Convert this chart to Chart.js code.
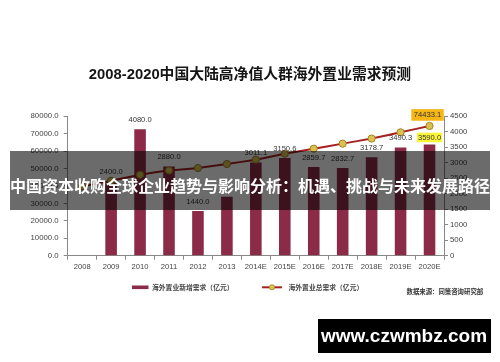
<!DOCTYPE html>
<html><head><meta charset="utf-8">
<script src="https://cdn.jsdelivr.net/npm/chart.js@4.4.1/dist/chart.umd.min.js"></script>
<style>html,body{margin:0;padding:0;background:#fff;overflow:hidden}#wrap{width:500px;height:362px}</style>
</head><body><div id="wrap"><canvas id="c" width="500" height="362"></canvas></div>
<script>
const categories = ['2008','2009','2010','2011','2012','2013','2014E','2015E','2016E','2017E','2018E','2019E','2020E'];
const newDemand = [null,2400,4080,2880,1440,1900,3011.1,3150.6,2859.7,2832.7,3178.7,3490.3,3590.0];
const newDemandLabels = [null,'2400.0','4080.0','2880.0','1440.0',null,'3011.1','3150.6','2859.7','2832.7','3178.7','3490.3','3590.0'];
const totalDemand = [39700,43000,46400,48900,50300,52600,55100,58500,61400,64300,67200,70800,74433.1];
const totalDemandLabels = [null,null,null,null,null,null,null,null,null,null,null,null,'74433.1'];
const leftAxis = {min:0, max:80000, step:10000};
const rightAxis = {min:0, max:4500, step:500};
const titleText = '2008-2020中国大陆高净值人群海外置业需求预测';
const legendBar = '海外置业新增需求（亿元）';
const legendLine = '海外置业总需求（亿元）';
const sourceText = '数据来源：同策咨询研究部';
const bannerText = '中国资本收购全球企业趋势与影响分析：机遇、挑战与未来发展路径';
const watermarkText = 'www.czwmbz.com';

const BAR_COLOR = '#8c2b47';
const LINE_COLOR = '#a8201f';
const PT_FILL = '#dcc050';
const PT_BORDER = '#a08425';
const NUM_FONT = '"Liberation Sans", Arial, sans-serif';
const CJK_FONT = '"Noto Sans CJK SC", sans-serif';

const overlay = {
  id: 'overlay',
  afterDatasetsDraw(chart) {
    const ctx = chart.ctx;
    ctx.save();
    const bm = chart.getDatasetMeta(0);
    ctx.font = '7.6px ' + NUM_FONT;
    ctx.textAlign = 'center';
    ctx.textBaseline = 'middle';
    bm.data.forEach((el, i) => {
      const t = newDemandLabels[i];
      if (!t) return;
      const last = i === newDemandLabels.length - 1;
      const y = el.y - (last ? 7 : 9.5);
      if (last) {
        const w = ctx.measureText(t).width + 2;
        ctx.fillStyle = '#fbf53a';
        ctx.fillRect(el.x - w/2, y - 4.8, w, 9.6);
      }
      ctx.fillStyle = '#333';
      ctx.fillText(t, el.x, y);
    });
    const lm = chart.getDatasetMeta(1);
    lm.data.forEach((el, i) => {
      const t = totalDemandLabels[i];
      if (!t) return;
      const y = el.y - 11;
      const w = ctx.measureText(t).width + 5;
      ctx.fillStyle = '#f6b716';
      ctx.fillRect(el.x - w/2 - 2, y - 5.8, w, 11.6);
      ctx.fillStyle = '#333';
      ctx.fillText(t, el.x - 2, y);
    });
    ctx.restore();
  },
  afterDraw(chart) {
    const ctx = chart.ctx;
    ctx.save();
    const ly = 287.3;
    ctx.fillStyle = BAR_COLOR;
    ctx.fillRect(132, ly - 1.8, 16.5, 3.6);
    ctx.font = 'bold 6.8px ' + CJK_FONT;
    ctx.textBaseline = 'middle';
    ctx.textAlign = 'left';
    ctx.fillStyle = '#444';
    ctx.fillText(legendBar, 152, ly);
    ctx.strokeStyle = LINE_COLOR;
    ctx.lineWidth = 2;
    ctx.beginPath(); ctx.moveTo(262, ly); ctx.lineTo(282, ly); ctx.stroke();
    ctx.beginPath(); ctx.arc(272, ly, 2.6, 0, Math.PI*2);
    ctx.fillStyle = PT_FILL; ctx.fill();
    ctx.lineWidth = 0.8; ctx.strokeStyle = PT_BORDER; ctx.stroke();
    ctx.fillStyle = '#444';
    ctx.fillText(legendLine, 288.5, ly);
    ctx.font = 'bold 6.4px ' + CJK_FONT;
    ctx.fillStyle = '#333';
    ctx.fillText(sourceText, 406.5, 292);
    ctx.fillStyle = 'rgba(0,0,0,0.58)';
    ctx.fillRect(10, 151, 480, 59);
    ctx.fillStyle = '#fff';
    ctx.font = 'bold 16px ' + CJK_FONT;
    ctx.textAlign = 'center';
    ctx.fillText(bannerText, 250, 185.5);
    ctx.fillStyle = '#000';
    ctx.fillRect(318, 319, 173, 34);
    ctx.fillStyle = '#fff';
    ctx.font = 'bold 19px ' + NUM_FONT;
    ctx.fillText(watermarkText, 404, 336.5);
    ctx.restore();
  }
};

function mkTicks(a){ const r=[]; for(let v=a.min; v<=a.max; v+=a.step) r.push(v); return r; }

new Chart(document.getElementById('c'), {
  data: {
    labels: categories,
    datasets: [
      { type:'bar', label: legendBar, data: newDemand, yAxisID:'y1', backgroundColor: BAR_COLOR,
        categoryPercentage: 1, barPercentage: 0.4, order: 2 },
      { type:'line', label: legendLine, data: totalDemand, yAxisID:'y', borderColor: LINE_COLOR, borderWidth: 2,
        pointRadius: 3.6, pointBackgroundColor: PT_FILL, pointBorderColor: PT_BORDER, pointBorderWidth: 1,
        tension: 0.1, order: 1 }
    ]
  },
  options: {
    responsive: false, animation: false, devicePixelRatio: 1,
    layout: { padding: { left: 0, right: 0, top: 0, bottom: 81.3 } },
    plugins: {
      legend: { display: false }, tooltip: { enabled: false },
      title: { display: true, text: titleText, color: '#151515',
        font: { family: '"Liberation Sans", "Noto Sans CJK SC", sans-serif', size: 14.8, weight: 'bold' }, padding: { top: 66.5, bottom: 32 } }
    },
    scales: {
      x: {
        offset: true,
        grid: { display: true, drawOnChartArea: false, offset: true, tickLength: 4, color: '#888' },
        border: { display: true, color: '#888' },
        ticks: { color: '#444', font: { family: NUM_FONT, size: 7.6 }, padding: 3, maxRotation: 0, autoSkip: false },
        afterFit(s){ s.height = 25; }
      },
      y: {
        position: 'left', min: leftAxis.min, max: leftAxis.max,
        afterBuildTicks(s){ s.ticks = mkTicks(leftAxis).map(v => ({value: v})); },
        grid: { display: true, drawOnChartArea: false, tickLength: 4, color: '#888' },
        border: { display: true, color: '#888' },
        ticks: { color: '#444', font: { family: NUM_FONT, size: 7.8 }, padding: 5, callback: v => v.toFixed(1) },
        afterFit(s){ s.width = 67.7; }
      },
      y1: {
        position: 'right', min: rightAxis.min, max: rightAxis.max,
        afterBuildTicks(s){ s.ticks = mkTicks(rightAxis).map(v => ({value: v})); },
        grid: { display: true, drawOnChartArea: false, tickLength: 4, color: '#888' },
        border: { display: true, color: '#888' },
        ticks: { color: '#444', font: { family: NUM_FONT, size: 7.8 }, padding: 2, callback: v => String(v) },
        afterFit(s){ s.width = 56; }
      }
    }
  },
  plugins: [overlay]
});
</script></body></html>
